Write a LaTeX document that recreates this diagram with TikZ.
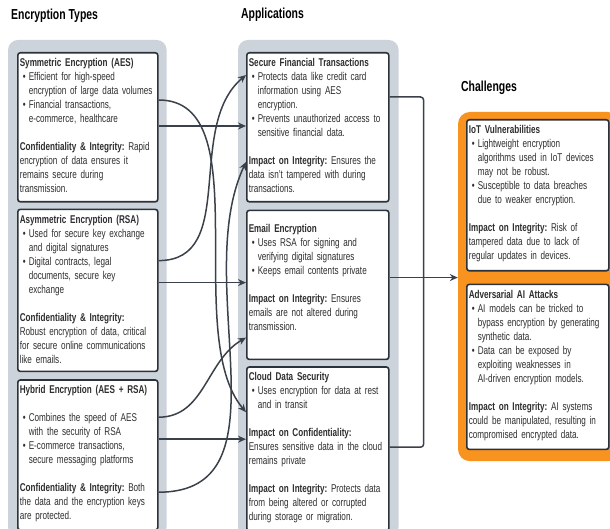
\documentclass[tikz,border=0pt]{standalone}
\usepackage{fontspec}
\setmainfont{Liberation Sans}[FakeStretch=0.72]
\usetikzlibrary{arrows.meta,positioning,fit,calc,backgrounds}

\definecolor{grpgray}{HTML}{CDD3DB}
\definecolor{edge}{HTML}{2C3239}
\definecolor{wire}{HTML}{3A414A}
\definecolor{chorange}{HTML}{F7931E}
\definecolor{bodytext}{HTML}{2E2E2E}

\frenchspacing
\hyphenpenalty=10000
\exhyphenpenalty=10000
\newcommand{\bul}[1]{\par\hangindent=9pt\hangafter=1\noindent\hspace*{3pt}\makebox[6pt][l]{\textbullet}#1\par}
\newcommand{\emptyrow}{\par\vspace{14pt}}

\tikzset{
  title/.style={font=\fontsize{14.5}{16}\selectfont\bfseries, text=black, inner sep=0pt, anchor=base west},
  card/.style={draw=edge, line width=1.6pt, fill=white, rounded corners=2.5pt, anchor=north west,
    align=left, inner xsep=2pt, inner ysep=3pt, text height=11pt, text depth=#1,
    text=bodytext, font=\fontsize{11.3}{14}\selectfont},
  grp/.style={fill=grpgray, rounded corners=10pt, inner sep=0pt},
  flow/.style={draw=wire, line width=1.5pt, -{Stealth[length=8pt,width=7pt]}},
  link/.style={draw=wire, line width=1.5pt, rounded corners=3pt}
}

\begin{document}
\begin{tikzpicture}[x=1pt, y=1pt]
    \useasboundingbox (0,0) rectangle (610,529);

    \node (typetitle) [title] at (11,509.5) {Encryption Types};
    \node (apptitle) [title] at (241,510) {Applications};
    \node (chtitle) [title] at (461,437) {Challenges};

    % encryption types
    \node (aes) [card=132pt, text width=136pt] at (17,477) {\textbf{Symmetric Encryption (AES)}
        \bul{Efficient for high-speed\newline encryption of large data volumes}
        \bul{Financial transactions,\newline e-commerce, healthcare}
        \emptyrow
        \textbf{Confidentiality \& Integrity:} Rapid\\encryption of data ensures it\\remains secure during\\transmission.};
    \node (rsa) [card=145pt, text width=136pt, below=6pt of aes] {\textbf{Asymmetric Encryption (RSA)}
        \bul{Used for secure key exchange\newline and digital signatures}
        \bul{Digital contracts, legal\newline documents, secure key\newline exchange}
        \emptyrow
        \textbf{Confidentiality \& Integrity:}\\Robust encryption of data, critical\\for secure online communications\\like emails.};
    \node (hyb) [card=133pt, text width=136pt, below=7pt of rsa] {\textbf{Hybrid Encryption (AES + RSA)}
        \emptyrow
        \bul{Combines the speed of AES\newline with the security of RSA}
        \bul{E-commerce transactions,\newline secure messaging platforms}
        \emptyrow
        \textbf{Confidentiality \& Integrity:} Both\\the data and the encryption keys\\are protected.};

    % applications
    \node (fin) [card=132pt, text width=138pt] at (246,477) {\textbf{Secure Financial Transactions}
        \bul{Protects data like credit card\newline information using AES\newline encryption.}
        \bul{Prevents unauthorized access to\newline sensitive financial data.}
        \emptyrow
        \textbf{Impact on Integrity:} Ensures the\\data isn't tampered with during\\transactions.};
    \node (email) [card=124pt, text height=19pt, text width=138pt, below=7pt of fin] {\textbf{Email Encryption}
        \bul{Uses RSA for signing and\newline verifying digital signatures}
        \bul{Keeps email contents private}
        \emptyrow
        \textbf{Impact on Integrity:} Ensures\\emails are not altered during\\transmission.};
    \node (cloud) [card=147pt, text width=138pt, below=6pt of email] {\textbf{Cloud Data Security}
        \bul{Uses encryption for data at rest\newline and in transit}
        \emptyrow
        \textbf{Impact on Confidentiality:}\\Ensures sensitive data in the cloud\\remains private
        \emptyrow
        \textbf{Impact on Integrity:} Protects data\\from being altered or corrupted\\during storage or migration.};

    % challenges
    \node (iot) [card=134pt, text width=138pt] at (466,410) {\textbf{IoT Vulnerabilities}
        \bul{Lightweight encryption\newline algorithms used in IoT devices\newline may not be robust.}
        \bul{Susceptible to data breaches\newline due to weaker encryption.}
        \emptyrow
        \textbf{Impact on Integrity:} Risk of\\tampered data due to lack of\\regular updates in devices.};
    \node (adv) [card=148pt, text width=138pt, below=12pt of iot] {\textbf{Adversarial AI Attacks}
        \bul{AI models can be tricked to\newline bypass encryption by generating\newline synthetic data.}
        \bul{Data can be exposed by\newline exploiting weaknesses in\newline AI-driven encryption models.}
        \emptyrow
        \textbf{Impact on Integrity:} AI systems\\could be manipulated, resulting in\\compromised encrypted data.};

    \begin{scope}[on background layer]
        \node (typegrp) [grp, fit={([shift={(-9,12)}]aes.north west) ([shift={(8,-6)}]hyb.south east)}] {};
        \node (appgrp) [grp, fit={([shift={(-8,12)}]fin.north west) ([shift={(9,-5)}]cloud.south east)}] {};
        \node (chgrp) [grp, fill=chorange, rounded corners=12pt, fit={([shift={(-8,7)}]iot.north west) ([shift={(10,-11)}]adv.south east)}] {};
    \end{scope}

    % types to applications
    \draw[flow] ([yshift=-74pt]aes.north east) coordinate (a1) -- (fin.west |- a1);
    \draw[flow] ([yshift=-48pt]aes.north east) to[out=0, in=130, looseness=0.8] ([yshift=-46pt]cloud.north west);
    \draw[flow] ([yshift=-52pt]rsa.north east) to[out=0, in=220] ([yshift=-23pt]fin.north west);
    \draw[flow] ([yshift=-74pt]rsa.north east) coordinate (r1) -- (email.west |- r1);
    \draw[flow] ([yshift=-38pt]hyb.north east) to[out=0, in=210] ([yshift=-128pt]email.north west);
    \draw[flow] ([yshift=-60pt]hyb.north east) coordinate (h1) -- (cloud.west |- h1);
    \draw[flow] ([yshift=-113pt]hyb.north east) to[out=0, in=245] ([yshift=-110pt]fin.north west);

    % applications to challenges
    \draw[flow] ([yshift=-68pt]email.north east) coordinate (e1) -- (chgrp.west |- e1);
    \coordinate (join) at ([xshift=34pt]e1);
    \draw[link] ([yshift=-45pt]fin.north east) -| (join);
    \draw[link] ([yshift=-81pt]cloud.north east) -| (join);
\end{tikzpicture}
\end{document}
